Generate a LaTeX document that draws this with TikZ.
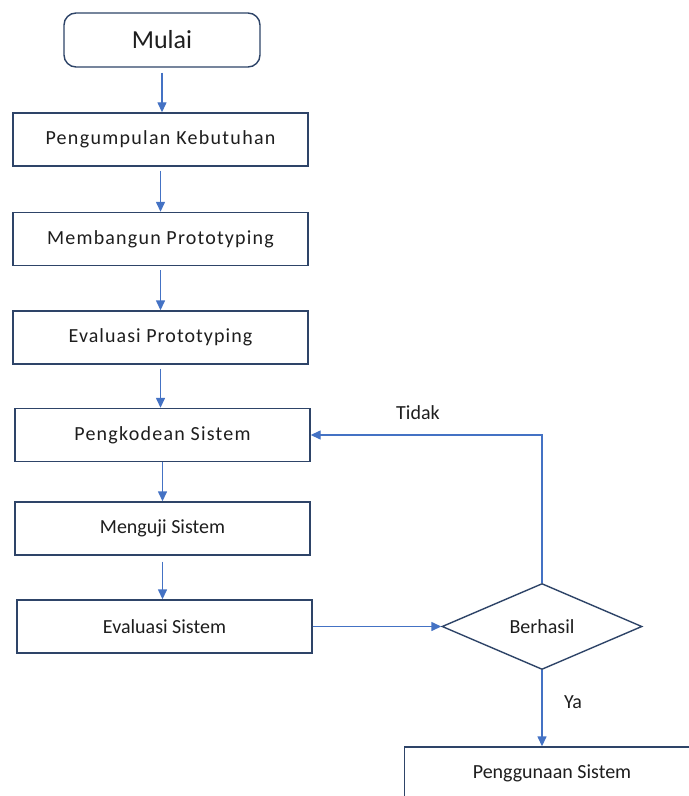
\documentclass[tikz,border=0pt]{standalone}
\usepackage{fontspec}
\setmainfont{Carlito}
\usetikzlibrary{arrows.meta,shapes.geometric}

\definecolor{boxline}{HTML}{2E4468}
\definecolor{flowblue}{HTML}{4472C4}
\definecolor{txtgray}{HTML}{1E1E1E}

\begin{document}
\begin{tikzpicture}[x=0.5pt,y=-0.5pt,
  stepbox/.style={draw=boxline,line width=0.7pt,fill=white,text=txtgray,
    minimum width=147.5pt,minimum height=26.5pt,inner sep=0pt,
    font=\fontsize{10}{12}\selectfont},
  spaced/.style={font=\fontsize{10}{12}\selectfont\addfontfeature{LetterSpace=#1}},
  startbox/.style={stepbox,rounded corners=6pt,minimum width=98pt,
    minimum height=27pt,font=\fontsize{13}{15}\selectfont},
  decide/.style={draw=boxline,line width=0.7pt,diamond,aspect=2.33,
    minimum width=100pt,minimum height=43pt,inner sep=0pt,text=txtgray,
    font=\fontsize{10}{12}\selectfont},
  flowlabel/.style={text=txtgray,inner sep=0pt,font=\fontsize{10}{12}\selectfont},
  arw/.style={flowblue,line width=0.7pt,-{Triangle[length=5pt,width=4.5pt]}}]
  \useasboundingbox (0,0) rectangle (689,796);

  \node[startbox] (mulai) at (162,40) {Mulai};
  \node[stepbox,spaced=6.5] (kebutuhan) at (160.5,139.5) {Pengumpulan Kebutuhan};
  \node[stepbox,spaced=6] (bangun) at (160.5,239) {Membangun Prototyping};
  \node[stepbox,spaced=5.3] (evalproto) at (160.5,337.5) {Evaluasi Prototyping};
  \node[stepbox,spaced=6.2] (kode) at (162.5,435) {Pengkodean Sistem};
  \node[stepbox] (uji) at (162.5,528.5) {Menguji Sistem};
  \node[stepbox] (evalsis) at (164.5,626.5) {Evaluasi Sistem};
  \node[decide] (berhasil) at (542,626.5) {Berhasil};
  \node[stepbox] (guna) at (552,773.5) {Penggunaan Sistem};

  \draw[arw,shorten <=2.5pt] (mulai.south) -- (mulai.south |- kebutuhan.north);
  \draw[arw,shorten <=2pt] (kebutuhan.south) -- (kebutuhan.south |- bangun.north);
  \draw[arw,shorten <=2pt] (bangun.south) -- (bangun.south |- evalproto.north);
  \draw[arw,shorten <=2pt] (evalproto.south) -- (evalproto.south |- kode.north);
  \draw[arw] (kode.south) -- (kode.south |- uji.north);
  \draw[arw,shorten <=3pt] (uji.south) -- (uji.south |- evalsis.north);
  \draw[arw] (evalsis.east) -- (berhasil.west);
  \draw[arw] (berhasil.north) |- (kode.east);
  \draw[arw] (berhasil.south) -- (berhasil.south |- guna.north);

  \node[flowlabel] (tidak) at (418,413) {Tidak};
  \node[flowlabel] (ya) at (573,702) {Ya};
\end{tikzpicture}
\end{document}
